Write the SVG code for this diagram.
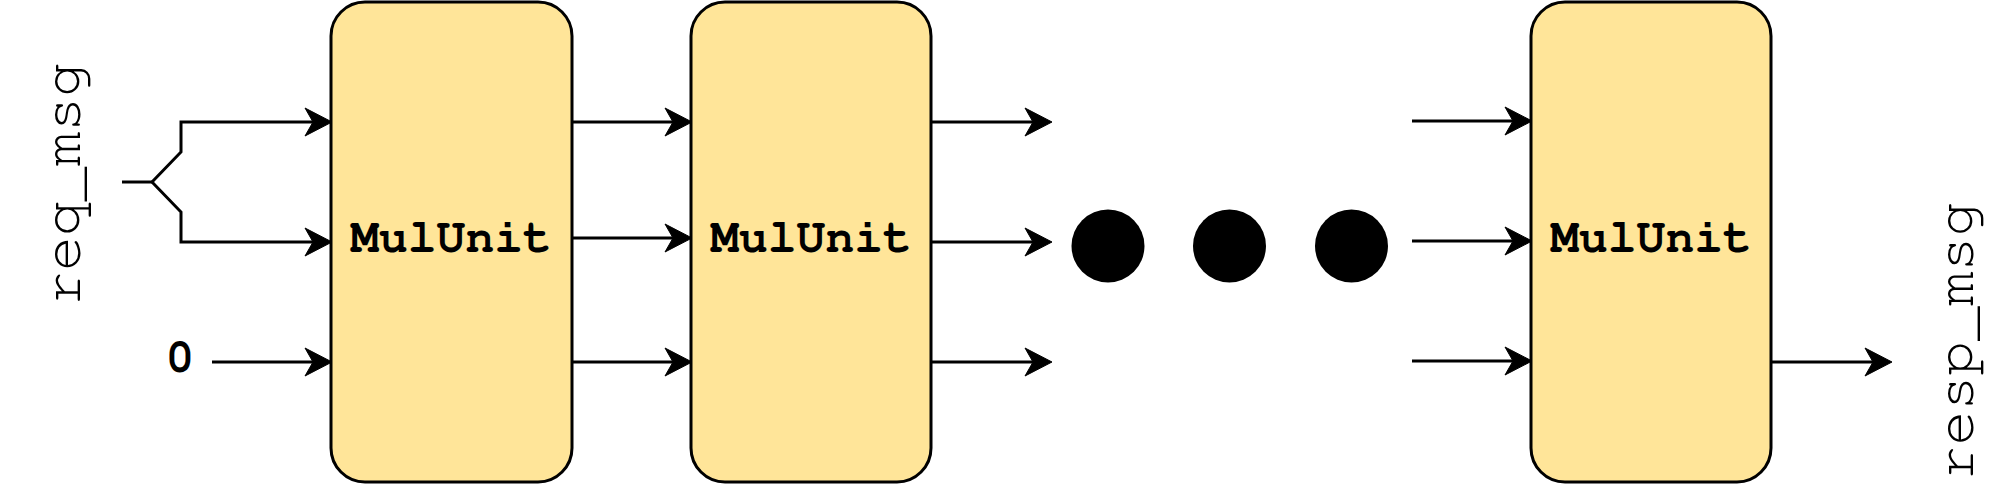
<svg xmlns="http://www.w3.org/2000/svg" width="1995" height="492" viewBox="0 0 1995 492">
<style>
.box{fill:#FFE599;stroke:#000;stroke-width:3}
.lbl{font-family:"Nimbus Mono PS","Nimbus Mono L","FreeMono","Courier","Courier New","Liberation Mono",monospace;font-weight:bold;font-size:48px;fill:#000;text-anchor:middle}
.port{font-family:"Nimbus Mono PS","Nimbus Mono L","FreeMono","Courier","Courier New","Liberation Mono",monospace;font-size:58px;fill:#000;text-anchor:middle}
.wire{fill:none;stroke:#000;stroke-width:3}
.arr{fill:none;stroke:#000;stroke-width:3;marker-end:url(#ah)}
</style>
<defs>
<marker id="ah" markerUnits="userSpaceOnUse" markerWidth="30" markerHeight="30" viewBox="0 0 30 30" refX="17" refY="15" orient="auto">
<path d="M28,15 L1,1 L9,15 L1,29 Z" fill="#000" stroke="#000" stroke-width="1"/>
</marker>
</defs>
<rect width="1995" height="492" fill="#fff"/>
<g id="connectors">
<path class="wire" d="M122,182 L152,182"/>
<path class="arr" d="M152,182 L181,152 L181,122 L321,122"/>
<path class="arr" d="M152,182 L181,212 L181,242 L321,242"/>
<path class="arr" d="M212,362 L321,362"/>
<path class="arr" d="M572,122 L681,122"/>
<path class="arr" d="M572,238 L681,238"/>
<path class="arr" d="M572,362 L681,362"/>
<path class="arr" d="M931,122 L1041,122"/>
<path class="arr" d="M931,242 L1041,242"/>
<path class="arr" d="M931,362 L1041,362"/>
<path class="arr" d="M1412,121 L1521,121"/>
<path class="arr" d="M1412,241 L1521,241"/>
<path class="arr" d="M1412,361 L1521,361"/>
<path class="arr" d="M1771,362 L1881,362"/>
</g>
<g id="mul1">
<rect class="box" x="331" y="2" width="241" height="480" rx="34" ry="34"/>
<text class="lbl" x="451" y="252">MulUnit</text>
</g>
<g id="mul2">
<rect class="box" x="691" y="2" width="240" height="480" rx="34" ry="34"/>
<text class="lbl" x="811" y="252">MulUnit</text>
</g>
<g id="mul3">
<rect class="box" x="1531" y="2" width="240" height="480" rx="34" ry="34"/>
<text class="lbl" x="1651" y="252">MulUnit</text>
</g>
<g id="ellipsis">
<circle cx="1108" cy="246" r="36.5" fill="#000"/>
<circle cx="1229.5" cy="246" r="36.5" fill="#000"/>
<circle cx="1351.5" cy="246" r="36.5" fill="#000"/>
</g>
<g id="req_msg">
<text class="port" transform="translate(80,184) rotate(-90)">req_msg</text>
</g>
<g id="zero">
<text class="lbl" x="180" y="372">0</text>
</g>
<g id="resp_msg">
<text class="port" transform="translate(1973,341) rotate(-90)">resp_msg</text>
</g>
</svg>
